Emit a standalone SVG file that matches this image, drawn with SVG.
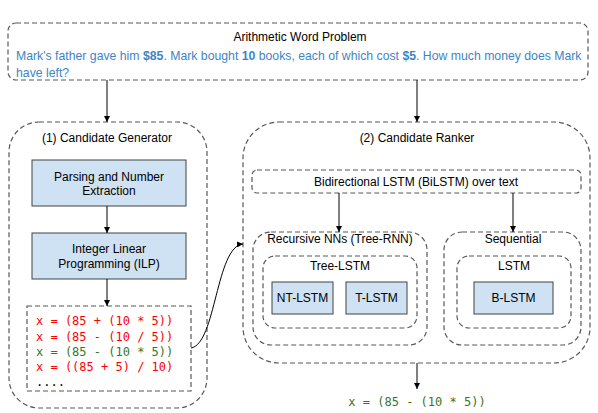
<svg xmlns="http://www.w3.org/2000/svg" width="598" height="413" viewBox="0 0 598 413">
<defs>
<marker id="arr" viewBox="0 0 10 10" refX="10" refY="5" markerWidth="6" markerHeight="6" orient="auto" markerUnits="userSpaceOnUse">
<path d="M0,0 L10,5 L0,10 z" fill="#000"/>
</marker>
</defs>
<style>
.dash{fill:#fff;stroke:#595959;stroke-width:1.2;stroke-dasharray:5,3}
.blue{fill:#cfe2f3;stroke:#434343;stroke-width:1}
.t{font-family:"Liberation Sans",Arial,sans-serif;font-size:12px;fill:#000;text-anchor:middle}
.q{font-family:"Liberation Sans",Arial,sans-serif;font-size:12.25px;fill:#3d85c6}
.m{font-family:"DejaVu Sans Mono","Liberation Mono",monospace;font-size:12px}
.red{fill:#ff0000}
.grn{fill:#38761d}
.c{fill:none;stroke:#000;stroke-width:1}
</style>
<rect width="598" height="413" fill="#fff"/>
<g id="problem">
<rect class="dash" x="8" y="23" width="580" height="57" rx="8"/>
<text class="t" x="300" y="41">Arithmetic Word Problem</text>
<text class="q" x="16" y="60">Mark's father gave him <tspan font-weight="bold">$85</tspan>. Mark bought <tspan font-weight="bold">10</tspan> books, each of which cost <tspan font-weight="bold">$5</tspan>. How much money does Mark</text>
<text class="q" x="16" y="77">have left?</text>
</g>
<g id="generator">
<rect class="dash" x="9" y="122" width="198" height="286" rx="30"/>
<text class="t" x="107" y="142">(1) Candidate Generator</text>
</g>
<g id="parsing">
<rect class="blue" x="32" y="160" width="154" height="46"/>
<text class="t" x="109" y="181">Parsing and Number</text>
<text class="t" x="109" y="195">Extraction</text>
</g>
<g id="ilp">
<rect class="blue" x="32" y="233" width="154" height="46"/>
<text class="t" x="109" y="253">Integer Linear</text>
<text class="t" x="109" y="268">Programming (ILP)</text>
</g>
<g id="candidates">
<rect class="dash" x="27" y="306" width="164" height="85"/>
<text class="m red" x="36" y="325">x = (85 + (10 * 5))</text>
<text class="m red" x="36" y="341">x = (85 - (10 / 5))</text>
<text class="m grn" x="36" y="356">x = (85 - (10 * 5))</text>
<text class="m red" x="36" y="371">x = ((85 + 5) / 10)</text>
<text class="m" x="36" y="386" fill="#000">....</text>
</g>
<g id="ranker">
<rect class="dash" x="243" y="122" width="347" height="241" rx="36"/>
<text class="t" x="417" y="142">(2) Candidate Ranker</text>
</g>
<g id="bilstm">
<rect class="dash" x="252" y="170" width="329" height="23" rx="5"/>
<text class="t" x="416" y="186">Bidirectional LSTM (BiLSTM) over text</text>
</g>
<g id="recursive">
<rect class="dash" x="253" y="232" width="174" height="113" rx="18"/>
<text class="t" x="340" y="243">Recursive NNs (Tree-RNN)</text>
</g>
<g id="treelstm">
<rect class="dash" x="263" y="256" width="154" height="72" rx="12"/>
<text class="t" x="340" y="270">Tree-LSTM</text>
</g>
<g id="ntlstm">
<rect class="blue" x="272" y="282" width="61" height="32"/>
<text class="t" x="302.5" y="302">NT-LSTM</text>
</g>
<g id="tlstm">
<rect class="blue" x="346" y="282" width="61" height="32"/>
<text class="t" x="376.5" y="302">T-LSTM</text>
</g>
<g id="sequential">
<rect class="dash" x="444" y="232" width="137" height="113" rx="18"/>
<text class="t" x="513" y="243">Sequential</text>
</g>
<g id="lstm">
<rect class="dash" x="457" y="256" width="114" height="72" rx="12"/>
<text class="t" x="514" y="270">LSTM</text>
</g>
<g id="blstm">
<rect class="blue" x="474" y="282" width="79" height="32"/>
<text class="t" x="513.5" y="302">B-LSTM</text>
</g>
<g id="output">
<text class="m grn" x="417" y="406" text-anchor="middle">x = (85 - (10 * 5))</text>
</g>
<g id="connectors">
<path class="c" d="M107,80 L107,122" marker-end="url(#arr)"/>
<path class="c" d="M417,80 L417,122" marker-end="url(#arr)"/>
<path class="c" d="M107,206 L107,233" marker-end="url(#arr)"/>
<path class="c" d="M107,279 L107,306" marker-end="url(#arr)"/>
<path class="c" d="M339,193 L339,232" marker-end="url(#arr)"/>
<path class="c" d="M513,193 L513,232" marker-end="url(#arr)"/>
<path class="c" d="M191,348 C216,344 216,246 243,244" marker-end="url(#arr)"/>
<path class="c" d="M417,363 L417,389" marker-end="url(#arr)"/>
</g>
</svg>
